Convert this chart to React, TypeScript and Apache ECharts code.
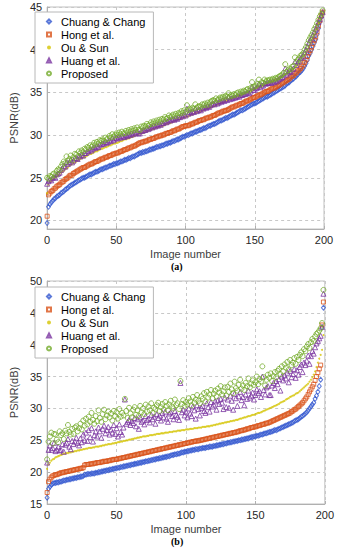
import React, { useEffect, useRef } from "react";
import * as echarts from "echarts";

const seriesNames = ["Chuang & Chang", "Hong et al.", "Ou & Sun", "Huang et al.", "Proposed"];
const xTicks = [0, 50, 100, 150, 200];
const aYTicks = [20, 25, 30, 35, 40, 45];
const bYTicks = [15, 20, 25, 30, 35, 40, 45, 50];

// (a)
const aChuang = [
  19.7, 21.6, 21.9, 22.1, 22.3, 22.5, 22.6, 22.8, 22.9, 23.0,
  23.2, 23.3, 23.4, 23.6, 23.7, 23.8, 24.0, 24.1, 24.2, 24.3,
  24.4, 24.5, 24.6, 24.7, 24.8, 24.9, 25.0, 25.0, 25.1, 25.2,
  25.3, 25.4, 25.4, 25.5, 25.6, 25.7, 25.7, 25.8, 25.9, 26.0,
  26.0, 26.1, 26.2, 26.2, 26.3, 26.4, 26.4, 26.5, 26.6, 26.6,
  26.7, 26.7, 26.8, 26.9, 26.9, 27.0, 27.1, 27.1, 27.2, 27.3,
  27.3, 27.4, 27.5, 27.5, 27.6, 27.7, 27.8, 27.9, 27.9, 28.0,
  28.0, 28.1, 28.1, 28.2, 28.3, 28.3, 28.4, 28.4, 28.5, 28.6,
  28.6, 28.7, 28.7, 28.8, 28.8, 28.9, 29.0, 29.0, 29.1, 29.1,
  29.2, 29.3, 29.3, 29.4, 29.5, 29.5, 29.6, 29.7, 29.8, 29.8,
  29.9, 30.0, 30.0, 30.1, 30.2, 30.2, 30.3, 30.4, 30.4, 30.5,
  30.6, 30.6, 30.7, 30.8, 30.8, 30.9, 31.0, 31.1, 31.1, 31.2,
  31.3, 31.3, 31.4, 31.5, 31.6, 31.7, 31.7, 31.8, 31.9, 32.0,
  32.0, 32.1, 32.2, 32.3, 32.4, 32.4, 32.5, 32.6, 32.7, 32.8,
  32.9, 32.9, 33.0, 33.1, 33.2, 33.3, 33.4, 33.5, 33.6, 33.7,
  33.7, 33.8, 33.9, 34.0, 34.1, 34.2, 34.3, 34.4, 34.5, 34.5,
  34.6, 34.7, 34.8, 34.9, 35.0, 35.1, 35.2, 35.3, 35.4, 35.5,
  35.6, 35.7, 35.8, 36.0, 36.1, 36.2, 36.4, 36.5, 36.6, 36.8,
  36.9, 37.1, 37.3, 37.4, 37.6, 37.8, 38.1, 38.4, 38.8, 39.3,
  39.6, 40.0, 40.4, 40.8, 41.2, 41.8, 42.5, 43.2, 43.8, 44.3,
];
const aHong = [
  20.5, 23.0, 23.2, 23.4, 23.5, 23.7, 23.8, 24.0, 24.1, 24.2,
  24.4, 24.5, 24.6, 24.8, 24.9, 25.0, 25.2, 25.3, 25.3, 25.5,
  25.6, 25.7, 25.8, 25.9, 26.0, 26.1, 26.2, 26.2, 26.3, 26.4,
  26.5, 26.6, 26.6, 26.7, 26.8, 26.9, 26.9, 27.0, 27.1, 27.2,
  27.2, 27.3, 27.4, 27.4, 27.5, 27.6, 27.6, 27.7, 27.8, 27.8,
  27.9, 27.9, 28.0, 28.1, 28.1, 28.2, 28.3, 28.3, 28.4, 28.5,
  28.5, 28.6, 28.7, 28.7, 28.8, 28.9, 29.0, 29.1, 29.1, 29.2,
  29.2, 29.3, 29.3, 29.4, 29.5, 29.5, 29.6, 29.6, 29.7, 29.8,
  29.8, 29.9, 29.9, 30.0, 30.0, 30.1, 30.2, 30.2, 30.3, 30.3,
  30.4, 30.5, 30.5, 30.6, 30.7, 30.7, 30.8, 30.9, 31.0, 31.0,
  31.1, 31.1, 31.1, 31.2, 31.3, 31.3, 31.4, 31.5, 31.5, 31.6,
  31.7, 31.7, 31.8, 31.8, 31.9, 32.0, 32.0, 32.1, 32.1, 32.2,
  32.3, 32.3, 32.4, 32.5, 32.6, 32.6, 32.7, 32.8, 32.8, 32.9,
  32.9, 33.0, 33.1, 33.2, 33.3, 33.3, 33.4, 33.5, 33.5, 33.6,
  33.7, 33.7, 33.8, 33.9, 34.0, 34.0, 34.1, 34.2, 34.3, 34.4,
  34.4, 34.5, 34.6, 34.7, 34.7, 34.8, 34.9, 35.0, 35.1, 35.1,
  35.2, 35.3, 35.4, 35.5, 35.5, 35.6, 35.7, 35.8, 35.9, 36.0,
  36.1, 36.2, 36.3, 36.4, 36.5, 36.6, 36.8, 36.9, 37.0, 37.2,
  37.3, 37.5, 37.6, 37.8, 38.0, 38.2, 38.5, 38.8, 39.2, 39.6,
  39.9, 40.3, 40.7, 41.1, 41.5, 42.1, 42.8, 43.4, 44.0, 44.4,
];
const aOu = [
  23.2, 24.2, 24.5, 24.6, 24.8, 24.9, 25.1, 25.2, 25.3, 25.4,
  25.6, 25.7, 25.8, 26.0, 26.1, 26.2, 26.4, 26.5, 26.6, 26.7,
  26.8, 26.9, 27.0, 27.1, 27.2, 27.3, 27.4, 27.4, 27.5, 27.6,
  27.7, 27.8, 27.8, 27.9, 28.0, 28.1, 28.1, 28.2, 28.3, 28.4,
  28.4, 28.5, 28.6, 28.6, 28.7, 28.8, 28.8, 28.9, 29.0, 29.0,
  29.1, 29.1, 29.2, 29.3, 29.3, 29.4, 29.5, 29.5, 29.6, 29.6,
  29.7, 29.8, 29.8, 29.9, 30.0, 30.0, 30.1, 30.2, 30.2, 30.3,
  30.3, 30.4, 30.4, 30.5, 30.6, 30.6, 30.7, 30.7, 30.8, 30.9,
  30.9, 31.0, 31.0, 31.1, 31.1, 31.2, 31.3, 31.3, 31.4, 31.4,
  31.5, 31.6, 31.6, 31.7, 31.8, 31.8, 31.9, 32.0, 32.0, 32.1,
  32.1, 32.2, 32.2, 32.3, 32.4, 32.4, 32.5, 32.6, 32.6, 32.7,
  32.7, 32.8, 32.9, 32.9, 33.0, 33.1, 33.1, 33.2, 33.2, 33.3,
  33.4, 33.4, 33.5, 33.6, 33.6, 33.7, 33.8, 33.8, 33.9, 34.0,
  34.0, 34.1, 34.2, 34.2, 34.3, 34.4, 34.4, 34.5, 34.6, 34.6,
  34.7, 34.8, 34.8, 34.9, 35.0, 35.0, 35.1, 35.2, 35.3, 35.3,
  35.4, 35.5, 35.5, 35.6, 35.7, 35.7, 35.8, 35.9, 36.0, 36.0,
  36.1, 36.2, 36.2, 36.3, 36.4, 36.5, 36.5, 36.6, 36.7, 36.8,
  36.9, 37.0, 37.1, 37.2, 37.3, 37.4, 37.5, 37.6, 37.7, 37.9,
  38.0, 38.2, 38.3, 38.5, 38.7, 38.9, 39.2, 39.5, 39.9, 40.2,
  40.5, 40.8, 41.2, 41.5, 41.9, 42.4, 43.0, 43.6, 44.1, 44.5,
];
const aHuang = [
  24.3, 24.6, 24.8, 24.7, 25.0, 25.1, 25.0, 25.4, 25.5, 25.6,
  25.9, 26.1, 26.4, 26.3, 26.8, 26.6, 26.8, 27.1, 26.8, 27.0,
  27.3, 27.3, 27.2, 27.6, 27.5, 27.7, 27.6, 27.9, 27.9, 28.1,
  28.1, 28.3, 28.2, 28.4, 28.6, 28.5, 28.7, 28.6, 28.9, 28.9,
  29.0, 29.0, 29.2, 29.1, 29.2, 29.4, 29.3, 29.6, 29.4, 29.6,
  29.7, 29.6, 29.8, 29.7, 29.9, 29.8, 29.8, 30.0, 29.9, 30.1,
  30.0, 30.2, 30.1, 30.3, 30.2, 30.4, 30.2, 30.2, 30.5, 30.5,
  30.6, 30.6, 30.8, 30.7, 30.8, 31.0, 30.9, 31.1, 31.0, 31.2,
  31.1, 31.3, 31.2, 31.4, 31.4, 31.6, 31.5, 31.6, 31.8, 31.7,
  31.8, 31.9, 31.8, 32.0, 31.9, 32.1, 32.1, 32.3, 32.2, 32.4,
  32.3, 33.1, 32.5, 32.7, 32.6, 32.8, 32.7, 33.1, 32.8, 32.9,
  33.0, 32.9, 33.2, 33.1, 33.3, 33.2, 33.4, 33.3, 33.5, 33.6,
  33.7, 33.6, 33.9, 33.7, 33.8, 34.0, 33.9, 34.1, 34.0, 34.2,
  34.1, 34.5, 34.2, 34.3, 34.3, 34.4, 34.4, 34.5, 34.6, 34.5,
  34.7, 34.7, 34.8, 34.8, 34.9, 35.0, 34.9, 35.1, 35.7, 35.3,
  35.3, 35.5, 35.6, 36.0, 35.6, 35.8, 35.8, 36.1, 36.0, 36.1,
  36.1, 36.2, 36.1, 36.3, 36.2, 36.4, 36.3, 36.5, 36.6, 36.7,
  36.8, 37.0, 37.8, 37.1, 37.3, 37.5, 37.4, 37.7, 37.8, 38.6,
  38.2, 38.5, 38.7, 39.0, 39.1, 39.3, 39.7, 40.0, 40.4, 40.8,
  41.1, 41.4, 41.7, 42.1, 42.4, 42.8, 43.2, 43.6, 44.0, 44.4,
];
const aProposed = [
  25.0, 24.9, 25.2, 25.1, 25.4, 25.5, 25.3, 25.8, 26.0, 25.9,
  26.3, 26.6, 26.9, 26.7, 27.5, 27.0, 27.2, 27.6, 27.1, 27.4,
  27.8, 27.7, 27.5, 28.1, 27.9, 28.2, 28.0, 28.4, 28.3, 28.6,
  28.5, 28.8, 28.6, 28.8, 29.1, 28.9, 29.2, 29.0, 29.4, 29.3,
  29.5, 29.3, 29.7, 29.5, 29.6, 29.9, 29.7, 30.1, 29.8, 30.0,
  30.2, 30.0, 30.3, 30.1, 30.4, 30.2, 30.2, 30.5, 30.3, 30.6,
  30.4, 30.7, 30.5, 30.8, 30.6, 30.9, 30.6, 30.6, 31.0, 30.9,
  31.1, 31.0, 31.3, 31.1, 31.2, 31.5, 31.3, 31.6, 31.4, 31.7,
  31.5, 31.8, 31.6, 31.9, 31.8, 32.1, 31.9, 32.0, 32.3, 32.1,
  32.2, 32.4, 32.2, 32.5, 32.3, 32.6, 32.5, 32.8, 32.6, 32.9,
  32.7, 33.5, 32.9, 33.1, 33.0, 33.2, 33.1, 33.6, 33.2, 33.3,
  33.4, 33.3, 33.6, 33.5, 33.7, 33.5, 33.8, 33.6, 33.9, 34.0,
  34.1, 34.0, 34.3, 34.1, 34.2, 34.4, 34.3, 34.5, 34.4, 34.6,
  34.5, 34.9, 34.5, 34.7, 34.6, 34.8, 34.7, 34.9, 35.0, 34.8,
  35.1, 35.0, 35.2, 35.1, 35.3, 35.4, 35.2, 35.5, 36.2, 35.6,
  35.7, 35.8, 36.0, 36.5, 35.9, 36.2, 36.1, 36.5, 36.3, 36.4,
  36.4, 36.5, 36.4, 36.6, 36.5, 36.7, 36.6, 36.8, 36.9, 37.0,
  37.1, 37.3, 38.3, 37.4, 37.6, 37.8, 37.7, 38.0, 38.1, 39.1,
  38.5, 38.8, 39.0, 39.3, 39.4, 39.6, 40.0, 40.3, 40.7, 41.1,
  41.4, 41.7, 42.0, 42.4, 42.7, 43.1, 43.5, 43.9, 44.2, 44.6,
];

// (b)
const bChuang = [
  16.0, 17.4, 17.7, 18.0, 18.2, 18.3, 18.3, 18.4, 18.4, 18.5,
  18.5, 18.6, 18.7, 18.7, 18.8, 18.8, 18.9, 18.9, 19.0, 19.0,
  19.1, 19.1, 19.2, 19.2, 19.3, 19.3, 19.4, 19.6, 19.6, 19.7,
  19.7, 19.7, 19.8, 19.8, 19.8, 19.9, 19.9, 20.0, 20.0, 20.1,
  20.1, 20.2, 20.2, 20.3, 20.3, 20.4, 20.4, 20.5, 20.5, 20.6,
  20.6, 20.7, 20.7, 20.8, 20.8, 20.9, 20.9, 21.0, 21.0, 21.1,
  21.1, 21.2, 21.2, 21.3, 21.3, 21.4, 21.4, 21.5, 21.5, 21.6,
  21.6, 21.7, 21.7, 21.8, 21.8, 21.9, 21.9, 22.0, 22.0, 22.1,
  22.1, 22.2, 22.2, 22.3, 22.3, 22.4, 22.4, 22.5, 22.5, 22.6,
  22.7, 22.7, 22.8, 22.8, 22.9, 22.9, 23.0, 23.1, 23.1, 23.2,
  23.2, 23.3, 23.3, 23.4, 23.4, 23.5, 23.5, 23.6, 23.6, 23.6,
  23.7, 23.7, 23.8, 23.8, 23.8, 23.9, 23.9, 24.0, 24.0, 24.0,
  24.1, 24.1, 24.2, 24.2, 24.3, 24.3, 24.4, 24.4, 24.5, 24.5,
  24.6, 24.6, 24.7, 24.7, 24.8, 24.8, 24.9, 24.9, 25.0, 25.0,
  25.1, 25.1, 25.2, 25.2, 25.3, 25.3, 25.4, 25.5, 25.5, 25.6,
  25.6, 25.7, 25.7, 25.8, 25.9, 25.9, 26.0, 26.1, 26.1, 26.2,
  26.3, 26.3, 26.4, 26.5, 26.6, 26.6, 26.7, 26.8, 26.9, 27.0,
  27.1, 27.2, 27.3, 27.4, 27.5, 27.6, 27.7, 27.8, 28.0, 28.1,
  28.2, 28.3, 28.5, 28.7, 28.8, 29.0, 29.2, 29.4, 29.7, 30.0,
  30.3, 30.6, 30.9, 31.5, 32.0, 32.6, 33.5, 34.5, 42.7, 45.8,
];
const bHong = [
  16.8, 18.5, 18.9, 19.2, 19.4, 19.5, 19.6, 19.6, 19.7, 19.8,
  19.9, 19.9, 20.0, 20.0, 20.1, 20.1, 20.2, 20.2, 20.3, 20.3,
  20.4, 20.4, 20.5, 20.5, 20.6, 20.6, 20.7, 21.1, 21.2, 21.2,
  21.2, 21.3, 21.3, 21.3, 21.4, 21.4, 21.5, 21.5, 21.5, 21.6,
  21.6, 21.7, 21.7, 21.7, 21.8, 21.8, 21.9, 21.9, 22.0, 22.0,
  22.0, 22.1, 22.1, 22.2, 22.2, 22.3, 22.3, 22.4, 22.4, 22.5,
  22.5, 22.6, 22.6, 22.7, 22.7, 22.8, 22.8, 22.9, 22.9, 23.0,
  23.0, 23.1, 23.1, 23.2, 23.2, 23.3, 23.3, 23.4, 23.4, 23.5,
  23.5, 23.6, 23.6, 23.7, 23.7, 23.8, 23.8, 23.9, 23.9, 24.0,
  24.0, 24.1, 24.1, 24.2, 24.2, 24.3, 24.3, 24.4, 24.4, 24.5,
  24.5, 24.6, 24.6, 24.7, 24.7, 24.8, 24.8, 24.9, 24.9, 24.9,
  25.0, 25.0, 25.1, 25.1, 25.2, 25.2, 25.3, 25.3, 25.4, 25.4,
  25.5, 25.5, 25.6, 25.6, 25.7, 25.7, 25.8, 25.8, 25.9, 25.9,
  26.0, 26.0, 26.1, 26.1, 26.2, 26.2, 26.3, 26.3, 26.4, 26.5,
  26.5, 26.6, 26.6, 26.7, 26.8, 26.8, 26.9, 27.0, 27.0, 27.1,
  27.1, 27.2, 27.3, 27.3, 27.4, 27.5, 27.5, 27.6, 27.7, 27.7,
  27.8, 27.9, 28.0, 28.1, 28.2, 28.3, 28.4, 28.5, 28.6, 28.7,
  28.8, 28.9, 29.0, 29.1, 29.2, 29.3, 29.5, 29.6, 29.8, 29.9,
  30.1, 30.3, 30.5, 30.7, 30.9, 31.2, 31.5, 31.8, 32.2, 32.6,
  33.0, 33.4, 33.8, 34.4, 35.0, 35.6, 36.2, 36.8, 43.1, 46.7,
];
const bOu = [
  20.5, 21.2, 21.5, 21.8, 22.0, 22.1, 22.3, 22.4, 22.5, 22.6,
  22.7, 22.8, 22.9, 22.9, 23.0, 23.0, 23.1, 23.1, 23.2, 23.2,
  23.3, 23.3, 23.4, 23.4, 23.5, 23.5, 23.6, 23.6, 23.7, 23.7,
  23.8, 23.8, 23.8, 23.9, 23.9, 24.0, 24.0, 24.0, 24.1, 24.1,
  24.2, 24.2, 24.3, 24.3, 24.4, 24.4, 24.4, 24.5, 24.5, 24.6,
  24.6, 24.7, 24.7, 24.8, 24.8, 24.9, 24.9, 25.0, 25.0, 25.1,
  25.1, 25.2, 25.2, 25.3, 25.3, 25.4, 25.4, 25.5, 25.5, 25.6,
  25.6, 25.6, 25.7, 25.7, 25.8, 25.8, 25.8, 25.9, 25.9, 26.0,
  26.0, 26.0, 26.1, 26.1, 26.1, 26.2, 26.2, 26.2, 26.3, 26.3,
  26.3, 26.4, 26.4, 26.4, 26.5, 26.5, 26.5, 26.6, 26.6, 26.6,
  26.7, 26.7, 26.7, 26.8, 26.8, 26.8, 26.9, 26.9, 26.9, 27.0,
  27.0, 27.0, 27.1, 27.1, 27.1, 27.2, 27.2, 27.2, 27.3, 27.3,
  27.4, 27.4, 27.5, 27.5, 27.6, 27.6, 27.7, 27.7, 27.8, 27.8,
  27.9, 27.9, 28.0, 28.0, 28.1, 28.1, 28.2, 28.2, 28.3, 28.4,
  28.4, 28.5, 28.6, 28.6, 28.7, 28.8, 28.8, 28.9, 29.0, 29.0,
  29.1, 29.2, 29.3, 29.3, 29.4, 29.5, 29.6, 29.7, 29.8, 29.9,
  30.0, 30.1, 30.2, 30.3, 30.4, 30.5, 30.6, 30.7, 30.9, 31.0,
  31.1, 31.2, 31.4, 31.5, 31.6, 31.8, 31.9, 32.0, 32.1, 32.3,
  32.4, 32.5, 32.7, 32.9, 33.1, 33.3, 33.5, 33.7, 33.9, 34.2,
  34.5, 34.9, 35.3, 35.8, 36.5, 37.2, 37.8, 38.4, 39.2, 41.5,
];
const bHuang = [
  21.5, 23.5, 24.2, 23.5, 23.8, 24.6, 23.3, 23.5, 24.0, 23.4,
  23.5, 24.4, 23.2, 24.3, 24.6, 25.2, 24.0, 23.6, 24.9, 24.4,
  24.8, 25.4, 24.6, 24.2, 25.3, 24.7, 25.9, 25.0, 26.2, 24.9,
  26.6, 25.5, 26.9, 24.8, 25.8, 26.4, 25.6, 27.0, 26.4, 25.4,
  26.8, 27.3, 26.1, 26.6, 27.1, 25.9, 26.7, 26.2, 27.4, 26.0,
  26.9, 25.6, 27.5, 26.3, 25.9, 27.0, 31.4, 27.6, 27.9, 28.2,
  27.4, 28.0, 27.7, 28.5, 27.2, 28.3, 26.8, 28.6, 27.9, 28.1,
  27.5, 28.8, 28.2, 28.4, 27.8, 29.0, 28.3, 28.7, 27.6, 29.1,
  28.5, 28.9, 28.1, 29.3, 28.6, 29.5, 28.4, 27.9, 29.2, 29.4,
  28.8, 28.3, 29.6, 29.0, 28.7, 28.2, 34.0, 29.4, 29.8, 28.9,
  29.5, 28.6, 30.0, 29.2, 28.8, 30.3, 29.7, 28.4, 30.5, 29.9,
  28.9, 30.1, 30.4, 29.6, 29.3, 30.8, 30.2, 29.5, 31.0, 30.3,
  30.6, 31.1, 29.8, 31.3, 30.7, 31.5, 30.9, 29.9, 31.7, 30.2,
  31.4, 30.1, 32.0, 31.2, 29.8, 32.3, 31.6, 30.4, 31.9, 32.6,
  31.3, 31.8, 30.5, 32.2, 31.5, 32.8, 31.7, 32.0, 32.5, 31.4,
  32.1, 33.0, 32.4, 32.7, 31.8, 35.0, 32.9, 32.2, 33.3, 33.5,
  32.1, 32.1, 33.6, 34.0, 33.2, 34.3, 33.8, 34.6, 32.8, 35.0,
  34.4, 35.2, 34.7, 35.6, 34.1, 35.9, 34.9, 35.4, 36.2, 34.8,
  36.0, 35.3, 36.5, 36.9, 35.7, 37.2, 36.8, 37.5, 38.3, 37.0,
  38.2, 39.0, 38.6, 39.6, 40.2, 40.6, 41.0, 41.4, 42.8, 48.0,
];
const bProposed = [
  22.0, 24.8, 25.6, 26.2, 24.5, 26.0, 25.9, 25.1, 24.7, 26.4,
  25.8, 26.1, 25.2, 26.5, 26.1, 27.4, 26.3, 25.9, 26.8, 26.0,
  27.0, 27.2, 26.4, 26.9, 27.6, 26.7, 28.1, 27.3, 28.4, 27.5,
  28.7, 27.9, 29.3, 28.2, 27.6, 28.8, 28.0, 29.7, 28.5, 27.9,
  29.1, 29.8, 28.3, 28.9, 29.5, 28.6, 29.2, 28.1, 29.6, 28.8,
  29.4, 28.4, 29.9, 28.7, 29.3, 28.9, 31.5, 29.6, 28.5, 30.1,
  29.2, 28.6, 29.8, 30.2, 29.0, 29.7, 28.8, 30.4, 29.4, 30.0,
  29.1, 30.6, 29.5, 30.3, 29.7, 30.8, 29.3, 30.1, 29.9, 30.5,
  30.9, 29.6, 30.2, 30.7, 29.8, 31.0, 30.4, 29.7, 30.6, 31.2,
  30.3, 30.0, 31.4, 30.5, 30.8, 29.9, 34.3, 30.7, 31.3, 30.4,
  31.0, 30.6, 31.6, 31.1, 30.5, 31.8, 30.9, 31.4, 32.1, 31.2,
  30.8, 31.9, 31.5, 32.4, 31.1, 32.6, 31.7, 32.2, 32.9, 31.6,
  32.3, 32.8, 31.9, 33.1, 32.5, 33.5, 32.2, 32.7, 33.3, 32.0,
  33.4, 32.6, 33.9, 33.0, 32.4, 34.2, 33.2, 32.8, 33.7, 34.5,
  33.1, 33.6, 32.9, 34.0, 33.5, 34.7, 33.3, 33.9, 34.4, 33.7,
  34.1, 35.0, 33.8, 34.6, 34.2, 36.6, 34.9, 33.6, 34.5, 35.3,
  34.8, 35.5, 34.3, 35.1, 35.7, 34.9, 35.9, 36.2, 35.4, 36.6,
  35.8, 36.9, 36.4, 37.3, 36.1, 37.6, 36.8, 37.2, 37.9, 37.0,
  38.1, 37.6, 38.4, 38.8, 38.2, 39.3, 39.0, 39.7, 40.1, 39.5,
  40.4, 40.9, 40.6, 41.3, 41.7, 41.9, 42.2, 42.6, 43.4, 48.6,
];

const colors = ["#3358d0", "#d9541a", "#d4c400", "#7b35a0", "#74ab2c"];
const symbols = ["diamond", "rect", "circle", "triangle", "circle"];
const sizes: any[] = [[4, 5], 4, 2, 5, 5];
const filled = [false, false, true, false, false];

const aData = [aChuang, aHong, aOu, aHuang, aProposed];
const bData = [bChuang, bHong, bOu, bHuang, bProposed];

export default function App() {
  const ref = useRef<HTMLDivElement>(null);
  useEffect(() => {
    if (!ref.current) return;
    const chart = echarts.init(ref.current, undefined, { renderer: "svg" });
    const font = "Liberation Sans";
    const labelStyle = { color: "#262626", fontSize: 11, fontFamily: font };
    const mkX = (gi: number) => ({
      type: "value",
      gridIndex: gi,
      min: xTicks[0],
      max: xTicks[xTicks.length - 1],
      interval: 50,
      name: "Image number",
      nameLocation: "middle",
      nameGap: 19,
      nameTextStyle: { color: "#404040", fontSize: 11, fontFamily: font },
      axisLine: { show: true, lineStyle: { color: "#b0b0b0", width: 1 } },
      axisTick: { show: true, inside: true, length: 3, lineStyle: { color: "#b0b0b0" } },
      axisLabel: { ...labelStyle, margin: 5 },
      splitLine: { show: true, lineStyle: { color: "#c8c8c8", type: [3, 3], width: 1 } },
    });
    const mkY = (gi: number, min: number, max: number, ticks: number[]) => ({
      type: "value",
      gridIndex: gi,
      min,
      max,
      name: "PSNR(dB)",
      nameLocation: "middle",
      nameGap: 24,
      nameTextStyle: { color: "#404040", fontSize: 11, fontFamily: font },
      axisLine: { show: true, lineStyle: { color: "#b0b0b0", width: 1 } },
      axisTick: { show: true, inside: true, length: 3, customValues: ticks, lineStyle: { color: "#b0b0b0" } },
      axisLabel: { ...labelStyle, margin: 5, customValues: ticks },
      splitLine: { show: true, lineStyle: { color: "#c8c8c8", type: [3, 3], width: 1 } },
    });
    const series: any[] = [];
    [aData, bData].forEach((set, gi) => {
      set.forEach((vals, si) => {
        series.push({
          type: "scatter",
          name: seriesNames[si],
          xAxisIndex: gi,
          yAxisIndex: gi,
          symbol: symbols[si],
          symbolSize: sizes[si],
          data: vals.map((v, i) => [i, v]),
          itemStyle: filled[si]
            ? { color: colors[si] }
            : { color: "rgba(255,255,255,0)", borderColor: colors[si], borderWidth: 1 },
          emphasis: { disabled: true },
          silent: true,
        });
      });
    });
    const mkLegend = (top: number) => ({
      orient: "vertical",
      left: 35,
      top,
      data: seriesNames.map((n, i) =>
        i === 2 ? { name: n, itemStyle: { color: colors[2] }, icon: "path://M2,2 m-1,0 a1,1 0 1,0 2,0 a1,1 0 1,0 -2,0" } : { name: n }
      ),
      selectedMode: false,
      itemWidth: 4,
      itemHeight: 4,
      itemGap: 2,
      padding: [4, 8, 4, 11],
      backgroundColor: "#ffffff",
      borderColor: "#b8b8b8",
      borderWidth: 1,
      textStyle: { color: "#000", fontSize: 11, fontFamily: font, lineHeight: 11, padding: [0, 0, 0, 5] },
    });
    chart.setOption({
      animation: false,
      backgroundColor: "#ffffff",
      grid: [
        { left: 32, top: 7, width: 292, height: 222, show: true, borderColor: "#c0c0c0", borderWidth: 1, backgroundColor: "transparent" },
        { left: 32, top: 281, width: 294, height: 223, show: true, borderColor: "#c0c0c0", borderWidth: 1, backgroundColor: "transparent" },
      ],
      xAxis: [mkX(0), mkX(1)],
      yAxis: [mkY(0, 19, 45, aYTicks), mkY(1, 15, 50, bYTicks)],
      legend: [mkLegend(12), mkLegend(287)],
      series,
      graphic: [
        { type: "text", left: 171, top: 261, style: { text: "(a)", font: 'bold 10px "Liberation Serif"', fill: "#000" } },
        { type: "text", left: 171, top: 536, style: { text: "(b)", font: 'bold 10px "Liberation Serif"', fill: "#000" } },
      ],
    });
    return () => chart.dispose();
  }, []);
  return (
    <div
      ref={ref}
      style={{ position: "absolute", left: 0, top: 0, width: 337, height: 550, background: "#fff" }}
    />
  );
}
